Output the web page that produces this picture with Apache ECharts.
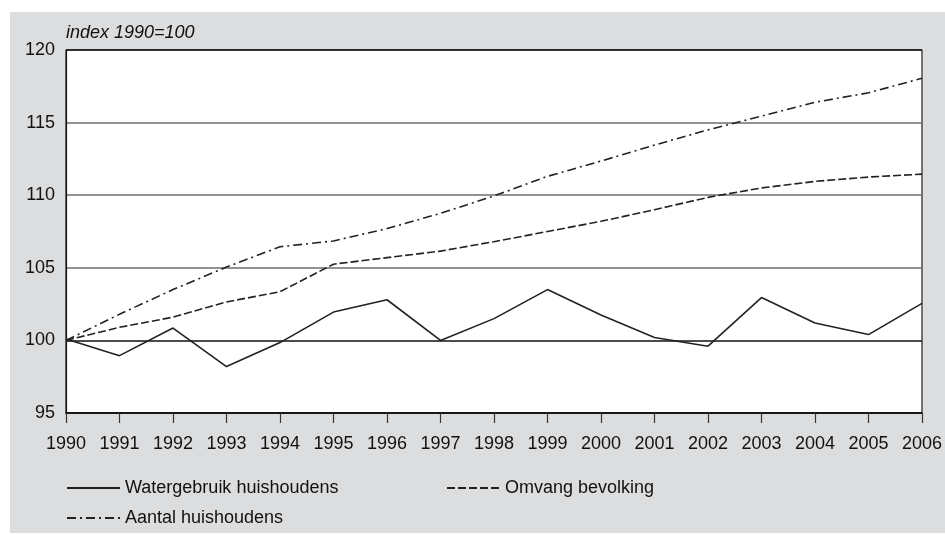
<!DOCTYPE html>
<html>
<head>
<meta charset="utf-8">
<script src="https://cdn.jsdelivr.net/npm/echarts@6/dist/echarts.min.js"></script>
<style>
html,body{margin:0;padding:0;background:#fff;}
#c{width:945px;height:534px;}
</style>
</head>
<body>
<div id="c"></div>
<script>
const years = ['1990','1991','1992','1993','1994','1995','1996','1997','1998','1999','2000','2001','2002','2003','2004','2005','2006'];
const watergebruik = [100.1, 98.95, 100.85, 98.2, 99.85, 101.95, 102.8, 100.0, 101.5, 103.5, 101.75, 100.2, 99.6, 102.95, 101.2, 100.4, 102.55];
const bevolking = [100.0, 100.9, 101.6, 102.65, 103.35, 105.25, 105.7, 106.15, 106.8, 107.5, 108.2, 109.0, 109.85, 110.5, 110.95, 111.25, 111.45];
const huishoudens = [100.0, 101.8, 103.5, 105.05, 106.45, 106.85, 107.7, 108.75, 109.95, 111.3, 112.35, 113.45, 114.5, 115.45, 116.4, 117.05, 118.05];
const seriesNames = ['Watergebruik huishoudens', 'Omvang bevolking', 'Aantal huishoudens'];
const yTicks = {min: 95, max: 120, interval: 5};
const unitLabel = 'index 1990=100';

const chart = echarts.init(document.getElementById('c'), null, {renderer: 'canvas'});
const FONT = 'Liberation Sans, Arial, Helvetica, sans-serif';
const ink = '#222';
const legendText = {fontFamily: FONT, fontSize: 18, color: '#111'};
const legendBase = {padding: 0, itemWidth: 53, itemHeight: 10, textStyle: legendText, selectedMode: false, itemStyle: {opacity: 0}};

chart.setOption({
  backgroundColor: '#ffffff',
  animation: false,
  graphic: [
    {type: 'rect', z: -10, shape: {x: 10, y: 12, width: 935, height: 521}, style: {fill: '#dcdddf'}},
    {type: 'text', left: 66, top: 24, style: {text: unitLabel, font: 'italic 18px ' + FONT, fill: '#111'}}
  ],
  grid: {left: 66, right: 20, top: 50, bottom: 121, show: true, backgroundColor: '#ffffff', borderColor: '#222', borderWidth: 1.2},
  legend: [
    Object.assign({data: [seriesNames[0]], left: 66, top: 479}, legendBase),
    Object.assign({data: [seriesNames[1]], left: 446, top: 479}, legendBase),
    Object.assign({data: [seriesNames[2]], left: 66, top: 509}, legendBase)
  ],
  xAxis: {
    type: 'category',
    data: years,
    boundaryGap: false,
    axisLine: {show: true, lineStyle: {color: '#111', width: 1.5}},
    axisTick: {show: true, length: 10, lineStyle: {color: '#333', width: 1.2}},
    axisLabel: {margin: 22, fontFamily: FONT, fontSize: 18, color: '#111', interval: 0},
    splitLine: {show: false}
  },
  yAxis: {
    type: 'value',
    min: yTicks.min, max: yTicks.max, interval: yTicks.interval,
    axisLine: {show: true, lineStyle: {color: '#111', width: 1.2}},
    axisTick: {show: false},
    axisLabel: {margin: 11, fontFamily: FONT, fontSize: 18, color: '#111'},
    splitLine: {show: true, lineStyle: {color: ['#111', '#111', '#6e6e6e', '#6e6e6e', '#6e6e6e', '#111'], width: 1.5}}
  },
  series: [
    {name: seriesNames[0], type: 'line', data: watergebruik, symbol: 'none', lineStyle: {color: ink, width: 1.6, type: 'solid'}, itemStyle: {color: ink}, z: 5},
    {name: seriesNames[1], type: 'line', data: bevolking, symbol: 'none', lineStyle: {color: ink, width: 1.6, type: [8, 3]}, itemStyle: {color: ink}, z: 5},
    {name: seriesNames[2], type: 'line', data: huishoudens, symbol: 'none', lineStyle: {color: ink, width: 1.6, type: [9, 4, 2, 4]}, itemStyle: {color: ink}, z: 5}
  ]
});
</script>
</body>
</html>
